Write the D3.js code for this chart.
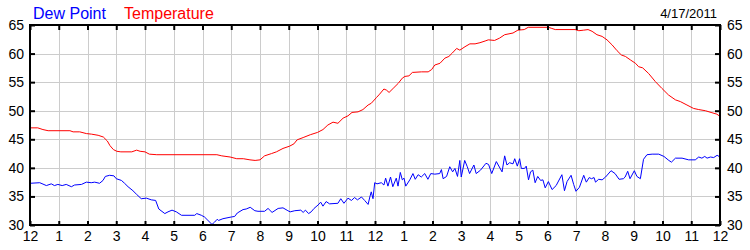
<!DOCTYPE html>
<html>

<head>
    <meta charset="UTF-8">
    <style>
        body { margin: 0; background: #fff; }
        svg text { font-family: "Liberation Sans", Arial, sans-serif; }
    </style>
</head>

<body>
    <script src="https://d3js.org/d3.v7.min.js"></script>
    <div id="chart"></div>
    <script>
        // hours since midnight
        const dewHours = [0, 0.34, 0.57, 0.74, 0.85, 0.97, 1.12, 1.26, 1.44, 1.55, 1.79, 1.96, 2.13, 2.25, 2.42, 2.54, 2.62, 2.77, 2.92, 3.0,
            3.18, 3.29, 3.41, 3.58, 3.70, 3.87, 4.05, 4.22, 4.37, 4.48, 4.69, 4.80, 4.94, 5.09, 5.27, 5.73, 5.80, 5.96, 6.07, 6.19,
            6.33, 6.42, 6.51, 6.56, 6.71, 7.0, 7.12, 7.21, 7.41, 7.52, 7.66, 7.82, 7.93, 8.16, 8.28, 8.42, 8.63, 8.80, 8.97, 9.05,
            9.21, 9.42, 9.50, 9.58, 9.69, 9.78, 9.88, 10.02, 10.11, 10.19, 10.30, 10.42, 10.71, 10.81, 10.92, 11.06, 11.18, 11.29, 11.39, 11.53,
            11.64, 11.76, 11.82, 11.87, 11.93, 11.99, 12.07, 12.22, 12.31, 12.37, 12.45, 12.54, 12.62, 12.74, 12.80, 12.88, 12.95, 13.01, 13.07, 13.21,
            13.32, 13.40, 13.50, 13.61, 13.73, 13.84, 13.94, 14.08, 14.25, 14.31, 14.37, 14.49, 14.60, 14.70, 14.78, 14.87, 14.95, 15.00, 15.12, 15.21,
            15.29, 15.44, 15.52, 15.67, 15.86, 15.95, 16.06, 16.22, 16.42, 16.51, 16.59, 16.68, 16.80, 16.86, 16.95, 17.03, 17.09, 17.20, 17.26, 17.34,
            17.41, 17.49, 17.57, 17.66, 17.76, 17.84, 17.92, 18.03, 18.16, 18.30, 18.50, 18.59, 18.68, 18.82, 18.91, 18.99, 19.11, 19.26, 19.35, 19.45,
            19.53, 19.62, 19.67, 19.78, 19.90, 20.02, 20.21, 20.35, 20.49, 20.64, 20.70, 20.79, 20.87, 21.02, 21.11, 21.23, 21.34, 21.46, 21.64, 21.87,
            22.05, 22.22, 22.31, 22.45, 22.68, 22.91, 23.14, 23.26, 23.37, 23.47, 23.55, 23.67, 23.78, 23.90, 24.0];
        const dewValues = [37.3, 37.4, 36.9, 37.2, 36.9, 37.1, 36.9, 37.1, 36.7, 37.0, 37.1, 37.5, 37.4, 37.5, 37.3, 37.8, 38.5, 38.7, 38.6, 38.1,
            37.8, 37.3, 36.7, 36.0, 35.4, 34.6, 34.7, 34.4, 34.3, 32.8, 32.0, 32.3, 32.6, 32.3, 31.7, 31.7, 32.0, 31.7, 31.4, 30.8,
            30.1, 30.5, 31.0, 30.8, 31.1, 31.4, 31.5, 32.1, 32.7, 32.8, 33.1, 32.5, 32.4, 32.4, 32.9, 32.2, 32.9, 33.0, 32.5, 32.3,
            32.5, 32.6, 32.2, 32.6, 32.0, 32.3, 32.9, 33.5, 34.0, 33.3, 34.1, 33.7, 33.8, 34.6, 33.8, 34.7, 34.3, 34.8, 34.4, 34.9,
            34.3, 33.6, 34.9, 35.8, 34.6, 37.4, 37.2, 37.4, 37.0, 38.2, 36.8, 38.4, 36.7, 38.2, 36.8, 39.2, 37.9, 38.2, 36.8, 37.9,
            39.0, 38.0, 38.8, 38.4, 39.0, 38.0, 39.0, 38.9, 39.0, 39.7, 38.1, 38.5, 40.2, 39.3, 39.9, 38.5, 41.3, 38.4, 41.3, 40.2,
            39.0, 40.5, 39.0, 39.6, 40.8, 40.6, 39.0, 41.1, 39.3, 42.1, 40.5, 40.9, 40.7, 41.6, 40.3, 41.6, 39.9, 39.9, 40.3, 37.9,
            39.3, 39.6, 37.4, 38.5, 37.8, 37.9, 36.5, 37.6, 36.2, 36.9, 38.8, 36.0, 37.6, 38.7, 37.1, 35.9, 36.6, 38.7, 37.5, 38.3,
            38.1, 38.3, 37.5, 38.0, 37.9, 38.4, 39.5, 39.0, 38.0, 38.1, 38.4, 39.4, 38.1, 39.5, 38.5, 38.1, 41.5, 42.3, 42.4, 42.4,
            42.0, 41.3, 41.0, 41.7, 41.7, 41.4, 41.4, 41.9, 41.7, 42.0, 41.7, 41.9, 41.8, 42.2, 41.9];

        const tempHours = [0, 0.27, 0.45, 0.63, 1.39, 1.5, 1.73, 1.96, 2.14, 2.37, 2.55, 2.69, 2.78, 2.9, 3.02, 3.16, 3.54, 3.71, 3.83, 4.0,
            4.15, 4.41, 6.5, 6.67, 6.96, 7.19, 7.42, 7.65, 7.83, 8.0, 8.16, 8.40, 8.57, 8.80, 9.03, 9.18, 9.29, 9.5, 9.75, 10.0,
            10.19, 10.36, 10.54, 10.71, 10.89, 11.06, 11.2, 11.41, 11.58, 11.76, 11.87, 12.05, 12.16, 12.31, 12.40, 12.49, 12.63, 12.81, 12.95, 13.04,
            13.18, 13.30, 13.62, 13.85, 13.97, 14.08, 14.26, 14.43, 14.57, 14.69, 14.84, 14.95, 15.13, 15.30, 15.48, 15.65, 15.83, 15.94, 16.16, 16.33,
            16.51, 16.80, 16.97, 17.19, 17.33, 18.03, 18.15, 18.27, 18.96, 19.09, 19.26, 19.41, 19.55, 19.72, 19.90, 20.07, 20.25, 20.42, 20.57, 20.71,
            20.88, 21.06, 21.17, 21.31, 21.52, 21.75, 21.98, 22.21, 22.45, 22.62, 22.85, 23.08, 23.26, 23.49, 23.72, 23.89, 24.0];
        const tempValues = [47.0, 47.0, 46.7, 46.5, 46.5, 46.3, 46.3, 46.0, 45.9, 45.7, 45.4, 44.7, 43.9, 43.2, 42.9, 42.8, 42.8, 43.1, 42.9, 42.8,
            42.4, 42.3, 42.3, 42.1, 41.9, 41.6, 41.6, 41.4, 41.3, 41.4, 42.1, 42.5, 42.8, 43.4, 43.8, 44.2, 44.9, 45.3, 45.8, 46.2,
            46.7, 47.5, 48.0, 47.8, 48.7, 49.1, 49.7, 49.8, 50.2, 51.0, 51.3, 52.3, 52.9, 53.8, 53.6, 53.2, 53.9, 54.8, 55.7, 56.0,
            56.1, 56.7, 56.8, 56.8, 57.2, 58.0, 58.3, 59.2, 59.5, 60.1, 60.9, 60.6, 61.2, 61.7, 61.7, 61.9, 62.2, 62.4, 62.3, 62.7,
            63.3, 63.6, 64.1, 64.2, 64.6, 64.6, 64.4, 64.2, 64.2, 64.0, 64.1, 64.2, 63.9, 63.3, 63.0, 62.4, 61.5, 60.5, 59.75, 59.5,
            58.9, 58.3, 57.7, 57.5, 56.5, 55.1, 53.9, 52.75, 51.9, 51.6, 51.0, 50.4, 50.2, 50.0, 49.65, 49.4, 49.0];

        const hourTicks = d3.range(0, 25);
        const hourLabels = ["12", "1", "2", "3", "4", "5", "6", "7", "8", "9", "10", "11",
            "12", "1", "2", "3", "4", "5", "6", "7", "8", "9", "10", "11", "12"];
        const yTicks = [30, 35, 40, 45, 50, 55, 60, 65];

        const width = 750, height = 250;
        const margin = { left: 30, right: 720, top: 25, bottom: 225 };

        const svg = d3.select("#chart")
            .append("svg")
            .attr("width", width)
            .attr("height", height);

        const x = d3.scaleLinear().domain([0, 24]).range([margin.left, margin.right]);
        const y = d3.scaleLinear().domain([30, 65]).range([margin.bottom, margin.top]);

        // grid
        svg.append("g")
            .selectAll("line")
            .data(hourTicks.slice(1, -1))
            .enter()
            .append("line")
            .attr("x1", d => Math.round(x(d)) + 0.5)
            .attr("x2", d => Math.round(x(d)) + 0.5)
            .attr("y1", margin.top)
            .attr("y2", margin.bottom)
            .attr("stroke", "#cccccc");

        svg.append("g")
            .selectAll("line")
            .data(yTicks.slice(1, -1))
            .enter()
            .append("line")
            .attr("y1", d => Math.round(y(d)) + 0.5)
            .attr("y2", d => Math.round(y(d)) + 0.5)
            .attr("x1", margin.left)
            .attr("x2", margin.right)
            .attr("stroke", "#cccccc");

        // series
        const line = d3.line()
            .x(d => x(d[0]))
            .y(d => y(d[1]));

        svg.append("path")
            .datum(d3.zip(tempHours, tempValues))
            .attr("fill", "none")
            .attr("stroke", "#ff0000")
            .attr("stroke-width", 1)
            .attr("d", line);

        svg.append("path")
            .datum(d3.zip(dewHours, dewValues))
            .attr("fill", "none")
            .attr("stroke", "#0000ff")
            .attr("stroke-width", 1)
            .attr("d", line);

        // axes: ticks point inward
        const styleAxis = g => {
            g.select(".domain").remove();
            g.selectAll(".tick line").attr("stroke", "#000").attr("stroke-width", 2);
            g.selectAll("text")
                .attr("fill", "#000")
                .style("font-size", "14px")
                .style("font-family", '"Liberation Sans", Arial, sans-serif');
        };

        svg.append("g")
            .attr("transform", `translate(0, ${margin.bottom})`)
            .call(d3.axisBottom(x).tickValues(hourTicks).tickFormat((d, i) => hourLabels[i])
                .tickSizeInner(-4).tickSizeOuter(0).tickPadding(6.5))
            .call(styleAxis);

        svg.append("g")
            .attr("transform", `translate(0, ${margin.top})`)
            .call(d3.axisTop(x).tickValues(hourTicks).tickFormat("")
                .tickSizeInner(-5).tickSizeOuter(0))
            .call(styleAxis);

        svg.append("g")
            .attr("transform", `translate(${margin.left}, 0)`)
            .call(d3.axisLeft(y).tickValues(yTicks).tickSizeInner(-5).tickSizeOuter(0).tickPadding(6))
            .call(styleAxis);

        svg.append("g")
            .attr("transform", `translate(${margin.right}, 0)`)
            .call(d3.axisRight(y).tickValues(yTicks).tickSizeInner(-5).tickSizeOuter(0).tickPadding(7))
            .call(styleAxis);

        // frame
        svg.append("rect")
            .attr("x", margin.left)
            .attr("y", margin.top)
            .attr("width", margin.right - margin.left)
            .attr("height", margin.bottom - margin.top)
            .attr("fill", "none")
            .attr("stroke", "#000")
            .attr("stroke-width", 2);

        // legend and date
        svg.append("text")
            .attr("x", 33)
            .attr("y", 18.5)
            .attr("fill", "#0000ff")
            .style("font-size", "16px")
            .text("Dew Point");

        svg.append("text")
            .attr("x", 124)
            .attr("y", 18.5)
            .attr("fill", "#ff0000")
            .style("font-size", "16px")
            .text("Temperature");

        svg.append("text")
            .attr("x", 717)
            .attr("y", 17.5)
            .attr("text-anchor", "end")
            .attr("fill", "#000")
            .style("font-size", "13px")
            .text("4/17/2011");
    </script>
</body>

</html>
